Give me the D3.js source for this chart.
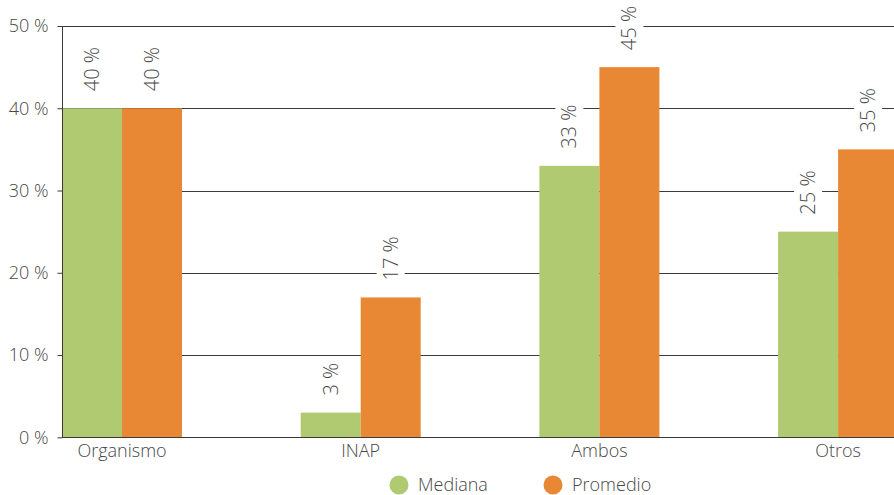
<!DOCTYPE html>
<html>
<head>
<meta charset="utf-8">
<script src="https://cdn.jsdelivr.net/npm/d3@7"></script>
<style>
  html, body { margin: 0; padding: 0; background: #fff; }
  svg { display: block; font-family: "Open Sans", "Noto Sans", sans-serif; font-weight: 300; }
</style>
</head>
<body>
<svg id="chart" width="894" height="495"></svg>
<script>
// Categories and series
const categories = ["Organismo", "INAP", "Ambos", "Otros"];
const seriesNames = ["Mediana", "Promedio"];
const mediana = [40, 3, 33, 25];
const promedio = [40, 17, 45, 35];
const yTicks = [0, 10, 20, 30, 40, 50];
const colors = ["#b0ca72", "#e88834"];

const svg = d3.select("#chart");
const W = 894, H = 495;
const plotLeft = 62, plotTop = 26, plotBottom = 437.3;
const textColor = "#474747";

const y = d3.scaleLinear().domain([0, 50]).range([plotBottom, plotTop]);

// Groups: each category holds two 60px bars on a 238.7px step
const groupStep = 238.7, groupWidth = 120;
const x0 = d3.scaleBand()
  .domain(categories)
  .range([plotLeft, plotLeft + groupStep * (categories.length - 1) + groupWidth])
  .paddingInner(1 - groupWidth / groupStep)
  .paddingOuter(0);
const x1 = d3.scaleBand().domain(seriesNames).range([0, x0.bandwidth()]);

const rows = categories.map((c, i) => ({ cat: c, vals: [mediana[i], promedio[i]] }));

// Horizontal gridlines
svg.append("g")
  .selectAll("line")
  .data(yTicks.filter(t => t > 0))
  .join("line")
  .attr("x1", plotLeft).attr("x2", W)
  .attr("y1", d => Math.round(y(d)) + 0.5).attr("y2", d => Math.round(y(d)) + 0.5)
  .attr("stroke", "#3a3a3a").attr("stroke-width", 1);

// Bars
const groups = svg.append("g")
  .selectAll("g")
  .data(rows)
  .join("g")
  .attr("transform", d => `translate(${x0(d.cat)},0)`);

groups.selectAll("rect")
  .data(d => d.vals.map((v, k) => ({ v, k })))
  .join("rect")
  .attr("x", d => x1(seriesNames[d.k]))
  .attr("width", x1.bandwidth())
  .attr("y", d => y(d.v))
  .attr("height", d => y(0) - y(d.v))
  .attr("fill", d => colors[d.k]);

// Value labels, rotated, with a white backing
const labels = groups.selectAll("g.lbl")
  .data(d => d.vals.map((v, k) => ({ v, k })))
  .join("g")
  .attr("class", "lbl")
  .attr("transform", d => `translate(${x1(seriesNames[d.k]) + x1.bandwidth() / 2},${y(d.v) - 17}) rotate(-90)`);

labels.each(function(d) {
  const g = d3.select(this);
  const t = g.append("text")
    .attr("x", 0).attr("y", 0)
    .attr("dy", "0.35em")
    .attr("font-size", 20)
    .attr("fill", textColor)
    .text(d.v + " %");
  const bb = t.node().getBBox();
  g.insert("rect", "text")
    .attr("x", bb.x - 4).attr("y", -14)
    .attr("width", bb.width + 8).attr("height", 28)
    .attr("fill", "#fff");
});

// Y axis
const yAxis = svg.append("g")
  .attr("transform", `translate(${plotLeft + 0.5},0)`)
  .call(d3.axisLeft(y).tickValues(yTicks).tickSize(5).tickPadding(9).tickFormat(d => d + " %"));
yAxis.select(".domain").attr("stroke", "#3a3a3a").attr("d", `M-0,${plotTop}V${plotBottom}`);
yAxis.selectAll(".tick line").attr("stroke", "#3a3a3a");
yAxis.selectAll(".tick text")
  .attr("font-size", 18).attr("fill", textColor)
  .attr("font-family", "\"Open Sans\", \"Noto Sans\", sans-serif").attr("font-weight", 300);

// X baseline and category labels
svg.append("line")
  .attr("x1", plotLeft).attr("x2", W)
  .attr("y1", Math.round(y(0)) + 0.5).attr("y2", Math.round(y(0)) + 0.5)
  .attr("stroke", "#3a3a3a");

svg.append("g")
  .selectAll("text")
  .data(categories)
  .join("text")
  .attr("x", d => x0(d) + x0.bandwidth() / 2)
  .attr("y", 457)
  .attr("text-anchor", "middle")
  .attr("font-size", 18)
  .attr("fill", textColor)
  .text(d => d);

// Legend
const legendX = [399, 553];
const legend = svg.append("g")
  .selectAll("g")
  .data(seriesNames)
  .join("g")
  .attr("transform", (d, i) => `translate(${legendX[i]},485)`);
legend.append("circle").attr("r", 9.5).attr("fill", (d, i) => colors[i]);
legend.append("text")
  .attr("x", 19).attr("dy", "0.35em")
  .attr("font-size", 18).attr("fill", textColor)
  .text(d => d);
</script>
</body>
</html>
